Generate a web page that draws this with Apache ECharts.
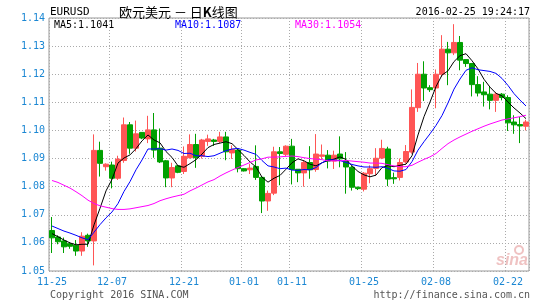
<!DOCTYPE html>
<html><head><meta charset="utf-8">
<script src="https://cdn.jsdelivr.net/npm/echarts@6/dist/echarts.min.js"></script>
<style>html,body{margin:0;padding:0;background:#fff}#c{width:545px;height:300px}</style>
</head><body><div id="c"></div>
<script>
// Mon-Sat daily candles (Sina forex feed), 2015-11-25 .. 2016-02-25
const dates = ['11-25','11-26','11-27','11-28','11-30','12-01','12-02','12-03','12-04','12-05',
'12-07','12-08','12-09','12-10','12-11','12-12','12-14','12-15','12-16','12-17',
'12-18','12-19','12-21','12-22','12-23','12-24','12-25','12-26','12-28','12-29',
'12-30','12-31','01-01','01-02','01-04','01-05','01-06','01-07','01-08','01-09',
'01-11','01-12','01-13','01-14','01-15','01-16','01-18','01-19','01-20','01-21',
'01-22','01-23','01-25','01-26','01-27','01-28','01-29','01-30','02-01','02-02',
'02-03','02-04','02-05','02-06','02-08','02-09','02-10','02-11','02-12','02-13',
'02-15','02-16','02-17','02-18','02-19','02-20','02-22','02-23','02-24','02-25'];
const opens = [1.0644,1.0621,1.0607,1.0597,1.0592,1.0571,1.0627,1.0607,1.0929,1.0871,
1.0877,1.0830,1.0893,1.1020,1.0937,1.0993,1.0970,1.1002,1.0937,1.0892,
1.0831,1.0874,1.0854,1.0903,1.0950,1.0908,1.0961,1.0966,1.0961,1.0977,
1.0920,1.0930,1.0864,1.0860,1.0872,1.0833,1.0749,1.0777,1.0924,1.0915,
1.0944,1.0862,1.0849,1.0886,1.0861,1.0908,1.0912,1.0891,1.0916,1.0891,
1.0869,1.0798,1.0791,1.0846,1.0865,1.0902,1.0934,1.0832,1.0833,1.0888,
1.0923,1.1081,1.1200,1.1152,1.1151,1.1200,1.1289,1.1276,1.1313,1.1252,
1.1238,1.1163,1.1137,1.1129,1.1107,1.1129,1.1117,1.1030,1.1021,1.1015];
const closes = [1.0618,1.0604,1.0586,1.0588,1.0571,1.0624,1.0607,1.0929,1.0883,1.0880,
1.0830,1.0898,1.1020,1.0937,1.0988,1.0973,1.1002,1.0930,1.0888,1.0831,
1.0868,1.0851,1.0908,1.0950,1.0903,1.0966,1.0970,1.0961,1.0977,1.0924,
1.0932,1.0864,1.0856,1.0866,1.0833,1.0749,1.0776,1.0924,1.0918,1.0944,
1.0861,1.0849,1.0886,1.0860,1.0916,1.0913,1.0891,1.0912,1.0899,1.0870,
1.0798,1.0793,1.0848,1.0864,1.0901,1.0936,1.0827,1.0828,1.0886,1.0925,
1.1082,1.1200,1.1151,1.1145,1.1200,1.1289,1.1276,1.1313,1.1250,1.1238,
1.1163,1.1133,1.1127,1.1107,1.1129,1.1117,1.1027,1.1020,1.1016,1.1030];
const lows = [1.0564,1.0595,1.0564,1.0579,1.0554,1.0554,1.0586,1.0520,1.0836,1.0857,
1.0794,1.0824,1.0885,1.0917,1.0925,1.0969,1.0955,1.0903,1.0884,1.0798,
1.0798,1.0848,1.0845,1.0900,1.0867,1.0900,1.0945,1.0945,1.0955,1.0894,
1.0899,1.0851,1.0854,1.0845,1.0824,1.0706,1.0714,1.0770,1.0805,1.0908,
1.0808,1.0816,1.0800,1.0828,1.0853,1.0898,1.0865,1.0863,1.0869,1.0775,
1.0786,1.0788,1.0783,1.0812,1.0840,1.0898,1.0802,1.0810,1.0822,1.0882,
1.0917,1.1066,1.1105,1.1137,1.1079,1.1190,1.1161,1.1268,1.1214,1.1226,
1.1121,1.1121,1.1085,1.1075,1.1066,1.1107,1.0998,1.0988,1.0955,1.1000];
const highs = [1.0692,1.0627,1.0619,1.0603,1.0610,1.0638,1.0633,1.0986,1.0960,1.0883,
1.0889,1.0910,1.1046,1.1030,1.1035,1.0994,1.1052,1.1062,1.1007,1.0895,
1.0885,1.0877,1.0943,1.0986,1.0988,1.0970,1.0985,1.0970,1.0995,1.0995,
1.0947,1.0935,1.0866,1.0881,1.0947,1.0838,1.0786,1.0942,1.0941,1.0947,
1.0970,1.0862,1.0892,1.0944,1.0987,1.0950,1.0930,1.0928,1.0979,1.0923,
1.0875,1.0800,1.0852,1.0876,1.0937,1.0967,1.0942,1.0850,1.0900,1.0948,
1.1146,1.1240,1.1246,1.1161,1.1217,1.1339,1.1315,1.1378,1.1336,1.1252,
1.1240,1.1193,1.1173,1.1155,1.1137,1.1133,1.1125,1.1054,1.1048,1.1038];
// moving-average lines
const ma5 = [1.0633,1.0622,1.0610,1.0600,1.0593,1.0595,1.0595,1.0664,1.0723,1.0785,
1.0826,1.0884,1.0902,1.0913,1.0935,1.0963,1.0984,1.0966,1.0956,1.0925,
1.0904,1.0874,1.0869,1.0882,1.0896,1.0916,1.0939,1.0950,1.0955,1.0960,
1.0953,1.0932,1.0911,1.0888,1.0870,1.0834,1.0816,1.0830,1.0840,1.0862,
1.0885,1.0899,1.0892,1.0880,1.0874,1.0885,1.0893,1.0898,1.0906,1.0897,
1.0874,1.0854,1.0842,1.0835,1.0841,1.0868,1.0875,1.0871,1.0876,1.0880,
1.0910,1.0984,1.1049,1.1101,1.1156,1.1197,1.1212,1.1245,1.1266,1.1273,
1.1248,1.1219,1.1182,1.1154,1.1132,1.1123,1.1101,1.1080,1.1062,1.1042];
const ma10 = [1.0660,1.0651,1.0642,1.0635,1.0627,1.0618,1.0611,1.0638,1.0665,1.0689,
1.0710,1.0740,1.0783,1.0818,1.0860,1.0895,1.0934,1.0934,1.0935,1.0930,
1.0934,1.0929,1.0918,1.0919,1.0910,1.0910,1.0907,1.0910,1.0919,1.0928,
1.0934,1.0936,1.0930,1.0922,1.0915,1.0893,1.0874,1.0870,1.0864,1.0866,
1.0859,1.0858,1.0861,1.0860,1.0868,1.0885,1.0896,1.0895,1.0893,1.0886,
1.0879,1.0874,1.0870,1.0870,1.0869,1.0871,1.0865,1.0856,1.0855,1.0861,
1.0889,1.0930,1.0960,1.0988,1.1018,1.1053,1.1098,1.1147,1.1183,1.1214,
1.1223,1.1216,1.1213,1.1210,1.1203,1.1185,1.1160,1.1131,1.1108,1.1087];
const ma30 = [1.0822,1.0815,1.0805,1.0795,1.0782,1.0768,1.0752,1.0740,1.0732,1.0727,
1.0722,1.0719,1.0719,1.0721,1.0725,1.0729,1.0733,1.0740,1.0750,1.0757,
1.0763,1.0768,1.0773,1.0785,1.0795,1.0806,1.0817,1.0825,1.0838,1.0849,
1.0859,1.0868,1.0877,1.0886,1.0895,1.0899,1.0905,1.0905,1.0906,1.0908,
1.0909,1.0907,1.0903,1.0900,1.0898,1.0896,1.0892,1.0892,1.0892,1.0893,
1.0891,1.0889,1.0887,1.0884,1.0884,1.0883,1.0878,1.0874,1.0871,1.0871,
1.0876,1.0887,1.0897,1.0906,1.0918,1.0936,1.0953,1.0966,1.0977,1.0987,
1.0997,1.1006,1.1015,1.1023,1.1030,1.1037,1.1041,1.1045,1.1049,1.1054];
const labelDates = ['11-25','12-07','12-21','01-01','01-11','01-25','02-08','02-22'];
const maLabels = ['MA5:1.1041','MA10:1.1087','MA30:1.1054'];
const yMin = 1.05, yMax = 1.14, yStep = 0.01;

const mono = '"DejaVu Sans Mono", monospace';
const cjk = '"Noto Sans CJK SC"';
const blue = '#1b87d3';
const labelSet = new Set(labelDates);
const kData = opens.map((o, i) => [o, closes[i], lows[i], highs[i]]);
const chart = echarts.init(document.getElementById('c'), null, {renderer: 'canvas'});
const txt = (x, y, text, fill, font, align) => ({
  type: 'text', x: x, y: y, silent: true,
  style: {text: text, fill: fill, font: font, textAlign: align || 'left', textVerticalAlign: 'middle', verticalAlign: 'middle'}
});
chart.setOption({
  animation: false,
  backgroundColor: '#fff',
  grid: {left: 49, right: 16, top: 18, bottom: 29, show: true, borderColor: '#999', borderWidth: 1, containLabel: false},
  xAxis: {
    type: 'category', data: dates, boundaryGap: true,
    axisLine: {show: false}, axisTick: {show: false},
    axisLabel: {interval: (i, v) => labelSet.has(v), color: blue, fontFamily: mono, fontSize: 10, margin: 6},
    splitLine: {show: true, interval: (i, v) => labelSet.has(v), lineStyle: {color: '#aaa', width: 1, type: [1, 2]}}
  },
  yAxis: {
    type: 'value', min: yMin, max: yMax, interval: yStep, scale: true,
    axisLine: {show: false}, axisTick: {show: false},
    axisLabel: {color: blue, fontFamily: mono, fontSize: 10, margin: 4, formatter: v => v.toFixed(2)},
    splitLine: {show: true, lineStyle: {color: '#aaa', width: 1, type: [1, 2]}}
  },
  series: [
    {type: 'candlestick', data: kData, barWidth: 5, silent: true,
     itemStyle: {color: '#ff5555', color0: '#00a000', borderColor: '#ff5555', borderColor0: '#00a000', borderWidth: 1}},
    {type: 'line', data: ma5, symbol: 'none', silent: true, z: 3, lineStyle: {color: '#000000', width: 1}},
    {type: 'line', data: ma10, symbol: 'none', silent: true, z: 3, lineStyle: {color: '#0000ff', width: 1}},
    {type: 'line', data: ma30, symbol: 'none', silent: true, z: 3, lineStyle: {color: '#ff00ff', width: 1}}
  ],
  graphic: [
    txt(50, 12, 'EURUSD', '#000', '11px ' + mono),
    {type: 'text', x: 119, y: 12, silent: true,
     style: {text: '{a|欧元美元 － 日}{b|K}{a|线图}', textVerticalAlign: 'middle', verticalAlign: 'middle',
       rich: {a: {font: '13px ' + cjk, fill: '#000', color: '#000'},
              b: {font: 'bold 13px ' + cjk, fill: '#000', color: '#000'}}}},
    txt(530, 12, '2016-02-25 19:24:17', '#000', '10px ' + mono, 'right'),
    txt(54, 25, maLabels[0], '#000', '10px ' + mono),
    txt(175, 25, maLabels[1], '#0000ff', '10px ' + mono),
    txt(295, 25, maLabels[2], '#ff00ff', '10px ' + mono),
    txt(50, 295, 'Copyright 2016 SINA.COM', '#555', '10px ' + mono),
    txt(530, 295, 'http://finance.sina.com.cn', '#555', '10px ' + mono, 'right'),
    txt(496, 261, 'sina', 'rgba(220,120,120,0.45)', 'italic bold 16px "Liberation Sans"'),
    {type: 'circle', silent: true, shape: {cx: 519, cy: 250, r: 4}, style: {fill: 'none', stroke: 'rgba(220,120,120,0.45)', lineWidth: 2}}
  ]
});
</script></body></html>
